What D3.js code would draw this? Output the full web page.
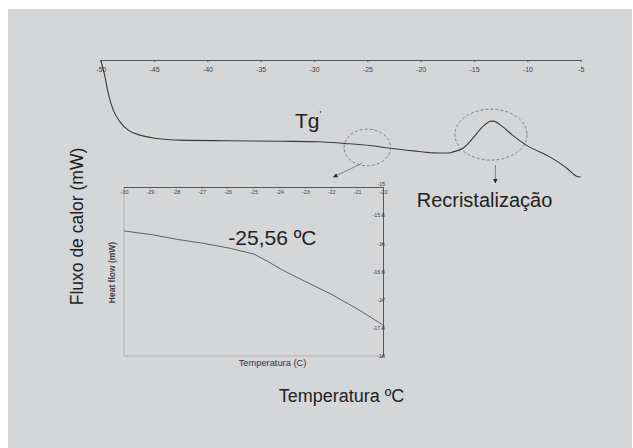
<!DOCTYPE html>
<html>
<head>
<meta charset="utf-8">
<script src="https://cdn.jsdelivr.net/npm/d3@7"></script>
<style>
  html, body { margin: 0; padding: 0; background: #ffffff; }
  svg { display: block; font-family: "Liberation Sans", Arial, sans-serif; }
  .tick line { stroke: #555; }
  .domain { stroke: #555; }
</style>
</head>
<body>
<div id="chart"></div>
<script>
// main DSC curve (temperature in °C, heat flow in mW)
const mainTemp = [-50, -49.6, -49.29, -48.82, -48.19, -47.41, -46.32, -44.75, -42.57, -38, -33.2, -29.5,
  -27.1, -24.75, -22.9, -20.7, -18.85, -17.5, -16.97, -16.0, -15.1, -14.2, -13.4, -13.2, -12.3, -11.4,
  -10.1, -7.9, -6.3, -5.4, -5];
const mainFlow = [1.5, -1.97, -5.41, -8.87, -11.29, -13.01, -14.04, -14.73, -15.08, -15.2, -15.3, -15.4,
  -15.76, -16.2, -16.75, -17.3, -17.7, -17.75, -17.5, -16.7, -14.66, -12.33, -11.15, -11.15, -12.33, -14.04,
  -16.11, -18.54, -20.88, -22.53, -22.7];
const mainTicks = [-50, -45, -40, -35, -30, -25, -20, -15, -10, -5];

// zoomed inset around Tg'
const insetTemp = [-30, -28.86, -27.95, -26.92, -25.89, -24.98, -24.46, -23.82, -23.04, -22.01, -20.97, -20];
const insetFlow = [-15.78, -15.85, -15.93, -16.0, -16.09, -16.19, -16.32, -16.49, -16.67, -16.9, -17.17, -17.45];
const insetXTicks = [-30, -29, -28, -27, -26, -25, -24, -23, -22, -21, -20];
const insetYTicks = [-15, -15.5, -16, -16.5, -17, -17.5, -18];

const width = 633, height = 448;

const svg = d3.select('#chart').append('svg')
  .attr('width', width).attr('height', height);

svg.append('rect')
  .attr('x', 8).attr('y', 9).attr('width', 624).attr('height', 439)
  .attr('fill', '#d5d6d8');

svg.append('defs').append('marker')
  .attr('id', 'head').attr('viewBox', '0 0 10 10')
  .attr('refX', 9).attr('refY', 5)
  .attr('markerWidth', 5).attr('markerHeight', 5)
  .attr('orient', 'auto')
  .append('path').attr('d', 'M0,0 L10,5 L0,10 Z').attr('fill', '#222');

// ---- main plot
const x = d3.scaleLinear().domain([-50, -5]).range([100.7, 580.7]);
const y = d3.scaleLinear().domain([1.5, -22.7]).range([60, 177]);

const xAxis = d3.axisBottom(x)
  .tickValues(mainTicks).tickSize(2).tickSizeOuter(0).tickPadding(5)
  .tickFormat(d => String(d));
const gx = svg.append('g').attr('transform', `translate(0,${y(1.5)})`).call(xAxis);
gx.select('.domain').attr('stroke-width', 1.2);
gx.selectAll('text').attr('font-size', 7).attr('fill', '#444').attr('font-family', 'inherit');

const line = d3.line().x(d => x(d[0])).y(d => y(d[1])).curve(d3.curveMonotoneX);
svg.append('path')
  .datum(d3.zip(mainTemp, mainFlow))
  .attr('d', line)
  .attr('fill', 'none').attr('stroke', '#3a3a3a').attr('stroke-width', 1.1);

// dashed ellipses
svg.append('ellipse')
  .attr('cx', x(-25.0)).attr('cy', y(-16.59))
  .attr('rx', x(-25.0 + 2.18) - x(-25.0)).attr('ry', 18.3)
  .attr('fill', 'none').attr('stroke', '#777').attr('stroke-width', 0.9).attr('stroke-dasharray', '3,2');
svg.append('ellipse')
  .attr('cx', x(-13.41)).attr('cy', y(-13.94))
  .attr('rx', x(-13.41 + 3.38) - x(-13.41)).attr('ry', 25.5)
  .attr('fill', 'none').attr('stroke', '#777').attr('stroke-width', 0.9).attr('stroke-dasharray', '3,2');

// arrows
svg.append('line')
  .attr('x1', 361.7).attr('y1', 163.5).attr('x2', 333.5).attr('y2', 177)
  .attr('stroke', '#777').attr('stroke-width', 0.9).attr('marker-end', 'url(#head)');
svg.append('line')
  .attr('x1', x(-13.0)).attr('y1', 165).attr('x2', x(-13.0)).attr('y2', 183)
  .attr('stroke', '#777').attr('stroke-width', 0.9).attr('marker-end', 'url(#head)');

// labels
svg.append('text').attr('x', 295).attr('y', 128)
  .attr('font-size', 21).attr('fill', '#222').text('Tg');
svg.append('text').attr('x', 319.5).attr('y', 117)
  .attr('font-size', 9).attr('fill', '#222').text("'");
svg.append('text').attr('x', 416.7).attr('y', 206.7)
  .attr('font-size', 20).attr('fill', '#222').text('Recristalização');
svg.append('text')
  .attr('transform', 'translate(83,226.5) rotate(-90)')
  .attr('text-anchor', 'middle').attr('font-size', 17.5).attr('fill', '#222')
  .text('Fluxo de calor (mW)');
svg.append('text').attr('x', 341.5).attr('y', 401.7)
  .attr('text-anchor', 'middle').attr('font-size', 18).attr('fill', '#222')
  .text('Temperatura ºC');

// ---- inset
const ix = d3.scaleLinear().domain([-30, -20]).range([124, 383]);
const iy = d3.scaleLinear().domain([-15, -18]).range([187, 356]);

svg.append('line')
  .attr('x1', ix(-30)).attr('y1', iy(-15)).attr('x2', ix(-30)).attr('y2', iy(-18))
  .attr('stroke', '#aaa').attr('stroke-width', 0.8);
svg.append('line')
  .attr('x1', ix(-30)).attr('y1', iy(-18)).attr('x2', ix(-20)).attr('y2', iy(-18))
  .attr('stroke', '#aaa').attr('stroke-width', 0.8);

const ixAxis = d3.axisBottom(ix)
  .tickValues(insetXTicks).tickSize(1.5).tickSizeOuter(0).tickPadding(1.5)
  .tickFormat(d => String(d));
const gix = svg.append('g').attr('transform', `translate(0,${iy(-15)})`).call(ixAxis);
gix.selectAll('text').attr('font-size', 5.5).attr('fill', '#444').attr('font-family', 'inherit');

const iyAxis = d3.axisLeft(iy)
  .tickValues(insetYTicks).tickSize(1.5).tickSizeOuter(0).tickPadding(-3.5)
  .tickFormat(d => String(d));
const giy = svg.append('g').attr('transform', `translate(${ix(-20)},0)`).call(iyAxis);
giy.selectAll('text').attr('font-size', 5.5).attr('fill', '#444').attr('font-family', 'inherit');
// top label sits just above the corner, clear of the "-20" tick label
giy.selectAll('.tick').filter(d => d === -15).select('text').attr('y', -3.5);

svg.append('path')
  .datum(d3.zip(insetTemp, insetFlow))
  .attr('d', d3.line().x(d => ix(d[0])).y(d => iy(d[1])))
  .attr('fill', 'none').attr('stroke', '#555').attr('stroke-width', 0.9);

svg.append('text').attr('x', 228.3).attr('y', 245)
  .attr('font-size', 21).attr('fill', '#222').text('-25,56 ºC');
svg.append('text')
  .attr('transform', 'translate(114.5,272.5) rotate(-90)')
  .attr('text-anchor', 'middle').attr('font-size', 8.5).attr('font-weight', 'bold').attr('fill', '#444')
  .text('Heat flow (mW)');
svg.append('text').attr('x', 272.5).attr('y', 365.5)
  .attr('text-anchor', 'middle').attr('font-size', 9.3).attr('fill', '#333')
  .text('Temperatura (C)');
</script>
</body>
</html>
